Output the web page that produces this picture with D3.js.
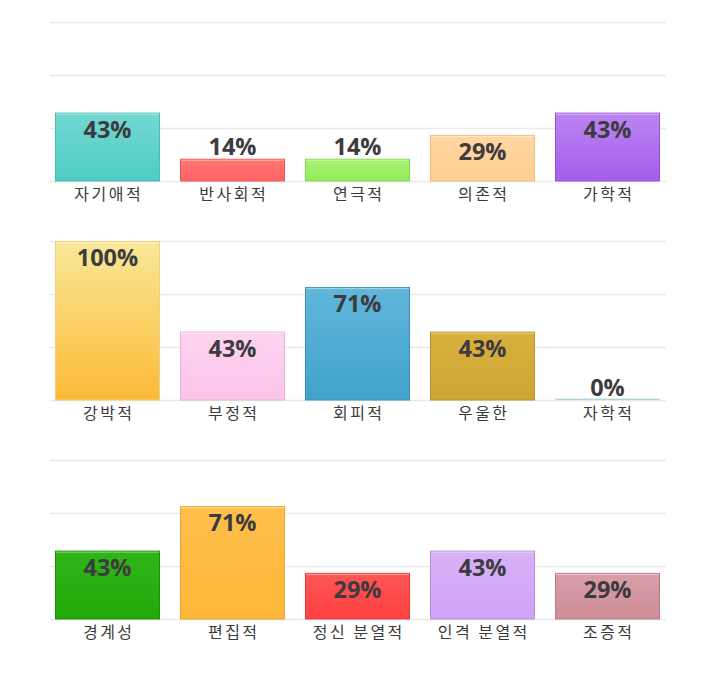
<!DOCTYPE html>
<html>
<head>
<meta charset="utf-8">
<script src="https://cdn.jsdelivr.net/npm/d3@7"></script>
<style>
  body { margin: 0; background: #fff; }
  svg { display: block; }
</style>
</head>
<body>
<div id="myDiv"></div>
<script>
// chart data, one list per panel
var cats1 = ["자기애적", "반사회적", "연극적", "의존적", "가학적"];
var vals1 = [43, 14, 14, 29, 43];
var cats2 = ["강박적", "부정적", "회피적", "우울한", "자학적"];
var vals2 = [100, 43, 71, 43, 0];
var cats3 = ["경계성", "편집적", "정신 분열적", "인격 분열적", "조증적"];
var vals3 = [43, 71, 29, 43, 29];
var gridTicks = [0, 100 / 3, 200 / 3, 100];

// bar colours (top of gradient, bottom of gradient, border)
var colors1 = [["#72d8d2", "#4ecdc4", "#47bdb4"], ["#ff7575", "#ff6363", "#e85a5a"], ["#a6f372", "#94eb5a", "#86d650"], ["#ffd7a2", "#ffcf92", "#ecbd80"], ["#bb84f2", "#a55eea", "#9650d6"]];
var colors2 = [["#f8e898", "#fcba36", "#ecd27a"], ["#fdd4ef", "#fbc4ea", "#eab0d8"], ["#60b6da", "#41a2cc", "#3a8fb6"], ["#d7b13c", "#cea535", "#b8922c"], ["#bfe0dc", "#a8d2cd", "#a8d2cd"]];
var colors3 = [["#2fb518", "#22aa08", "#1d8f08"], ["#ffbf4c", "#feb737", "#e8a530"], ["#ff5656", "#ff4040", "#e63a3a"], ["#d8b1f8", "#cea3f5", "#b98fe0"], ["#d89ea8", "#ce8d99", "#b97b86"]];

var panels = [
    {cats: cats1, vals: vals1, colors: colors1, top: 22},
    {cats: cats2, vals: vals2, colors: colors2, top: 241},
    {cats: cats3, vals: vals3, colors: colors3, top: 460}
];

var width = 718, height = 678;
var plotH = 159;

var svg = d3.select("#myDiv").append("svg")
    .attr("width", width)
    .attr("height", height);

var defs = svg.append("defs");

panels.forEach(function(p, pi){
    var g = svg.append("g").attr("transform", "translate(0," + p.top + ")");

    var xScale = d3.scaleBand()
        .domain(p.cats)
        .range([45, 670])
        .paddingInner(0.16)
        .paddingOuter(0.08);

    var yScale = d3.scaleLinear()
        .domain([0, 100])
        .range([plotH, 0]);

    // gridlines
    var grid = g.append("g")
        .attr("transform", "translate(50,0)")
        .call(d3.axisLeft(yScale).tickValues(gridTicks).tickSize(-616).tickFormat(""));
    grid.select(".domain").remove();
    grid.selectAll(".tick line")
        .attr("stroke", "#e9e9e9")
        .attr("stroke-width", 1.5);

    // gradients
    p.colors.forEach(function(c, i){
        var grad = defs.append("linearGradient")
            .attr("id", "grad" + pi + "_" + i)
            .attr("x1", 0).attr("y1", 0).attr("x2", 0).attr("y2", 1);
        grad.append("stop").attr("offset", "0%").attr("stop-color", c[0]);
        grad.append("stop").attr("offset", "100%").attr("stop-color", c[1]);
    });

    var data = p.cats.map(function(c, i){ return {cat: c, val: p.vals[i], i: i}; });

    // bars
    g.selectAll("rect.bar")
        .data(data)
        .enter()
        .append("rect")
            .attr("class", "bar")
            .attr("x", function(d){ return xScale(d.cat) + 0.5; })
            .attr("y", function(d){ return d.val > 0 ? yScale(d.val) + 0.5 : plotH - 1.5; })
            .attr("width", xScale.bandwidth() - 1)
            .attr("height", function(d){ return d.val > 0 ? plotH - yScale(d.val) - 0.5 : 1.5; })
            .attr("fill", function(d){ return "url(#grad" + pi + "_" + d.i + ")"; })
            .attr("stroke", function(d){ return d.val > 0 ? p.colors[d.i][2] : "none"; })
            .attr("stroke-width", 1);

    // light line at the top of each bar
    g.selectAll("line.hl")
        .data(data.filter(function(d){ return d.val > 0; }))
        .enter()
        .append("line")
            .attr("class", "hl")
            .attr("x1", function(d){ return xScale(d.cat) + 1; })
            .attr("x2", function(d){ return xScale(d.cat) + xScale.bandwidth() - 1; })
            .attr("y1", function(d){ return yScale(d.val) + 1.5; })
            .attr("y2", function(d){ return yScale(d.val) + 1.5; })
            .attr("stroke", "rgba(255,255,255,0.45)")
            .attr("stroke-width", 1);

    // value labels
    g.selectAll("text.val")
        .data(data)
        .enter()
        .append("text")
            .attr("class", "val")
            .attr("x", function(d){ return xScale(d.cat) + xScale.bandwidth() / 2; })
            .attr("y", function(d){
                var h = plotH - yScale(d.val);
                return h > 30 ? yScale(d.val) + 25 : yScale(d.val) - 4;
            })
            .attr("text-anchor", "middle")
            .attr("font-family", "'Open Sans', 'Noto Sans', sans-serif")
            .attr("font-weight", "bold")
            .attr("font-size", "23.5px")
            .attr("fill", "#3e3b3e")
            .text(function(d){ return d.val + "%"; });

    // category labels
    g.selectAll("text.cat")
        .data(data)
        .enter()
        .append("text")
            .attr("class", "cat")
            .attr("x", function(d){ return xScale(d.cat) + xScale.bandwidth() / 2 + 1.25; })
            .attr("y", plotH + 19)
            .attr("text-anchor", "middle")
            .attr("font-family", "'Noto Sans CJK KR', sans-serif")
            .attr("font-size", "16px")
            .attr("letter-spacing", "2.5px")
            .attr("fill", "#3a3a3a")
            .text(function(d){ return d.cat; });
});
</script>
</body>
</html>
